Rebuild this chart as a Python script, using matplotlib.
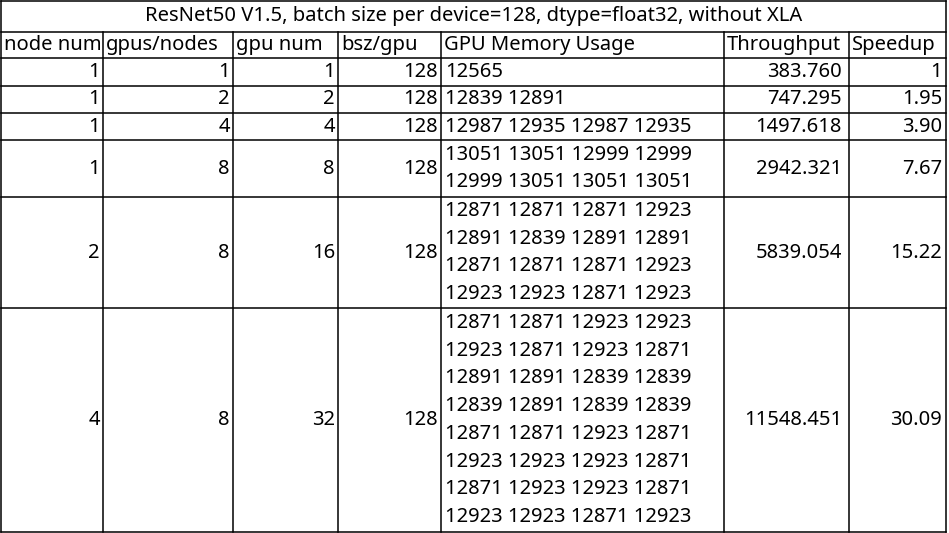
import matplotlib.pyplot as plt
from matplotlib.lines import Line2D

title = "ResNet50 V1.5, batch size per device=128, dtype=float32, without XLA"
headers = ["node num", "gpus/nodes", "gpu num", "bsz/gpu", "GPU Memory Usage", "Throughput", "Speedup"]
node_num = [1, 1, 1, 1, 2, 4]
gpus_per_node = [1, 2, 4, 8, 8, 8]
gpu_num = [1, 2, 4, 8, 16, 32]
bsz = [128, 128, 128, 128, 128, 128]
memory = [
    ["12565"],
    ["12839 12891"],
    ["12987 12935 12987 12935"],
    ["13051 13051 12999 12999", "12999 13051 13051 13051"],
    ["12871 12871 12871 12923", "12891 12839 12891 12891",
     "12871 12871 12871 12923", "12923 12923 12871 12923"],
    ["12871 12871 12923 12923", "12923 12871 12923 12871",
     "12891 12891 12839 12839", "12839 12891 12839 12839",
     "12871 12871 12923 12871", "12923 12923 12923 12871",
     "12871 12923 12923 12871", "12923 12923 12871 12923"],
]
throughput = ["383.760", "747.295", "1497.618", "2942.321", "5839.054", "11548.451"]
speedup = ["1", "1.95", "3.90", "7.67", "15.22", "30.09"]

W, H = 949, 533
col_x = [1, 103, 233, 338, 441, 724, 849, 946]
row_y = [1, 32, 58, 86, 113, 140, 197, 308, 532]

fig = plt.figure(figsize=(W / 100, H / 100), dpi=100)
ax = fig.add_axes([0, 0, 1, 1])
ax.set_xlim(0, W)
ax.set_ylim(H, 0)
ax.axis("off")

lw = 1.1
for y in row_y:
    ax.add_line(Line2D([1, 946], [y, y], color="black", lw=lw))
ax.add_line(Line2D([1, 1], [1, 532], color="black", lw=lw))
ax.add_line(Line2D([946, 946], [1, 532], color="black", lw=lw))
for x in col_x[1:-1]:
    ax.add_line(Line2D([x, x], [32, 532], color="black", lw=lw))

fs = 14.5
font = dict(fontsize=fs, family="Noto Sans", color="black")
ax.text((1 + 946) / 2, 16, title, ha="center", va="center", **font)
for i, h in enumerate(headers):
    ax.text(col_x[i] + 3, 45, h, ha="left", va="center", **font)

line_h = 27.7
for r in range(len(node_num)):
    y0, y1 = row_y[r + 2], row_y[r + 3]
    yc = (y0 + y1) / 2
    vals = [node_num[r], gpus_per_node[r], gpu_num[r], bsz[r]]
    for c, v in enumerate(vals):
        ax.text(col_x[c + 1] - 3, yc, str(v), ha="right", va="center", **font)
    lines = memory[r]
    n = len(lines)
    for k, s in enumerate(lines):
        y = yc + (k - (n - 1) / 2) * line_h
        ax.text(col_x[4] + 4, y, s, ha="left", va="center", **font)
    ax.text(col_x[6] - 7, yc, throughput[r], ha="right", va="center", **font)
    ax.text(col_x[7] - 4, yc, speedup[r], ha="right", va="center", **font)

fig.savefig("out.png", dpi=100, facecolor="white")
